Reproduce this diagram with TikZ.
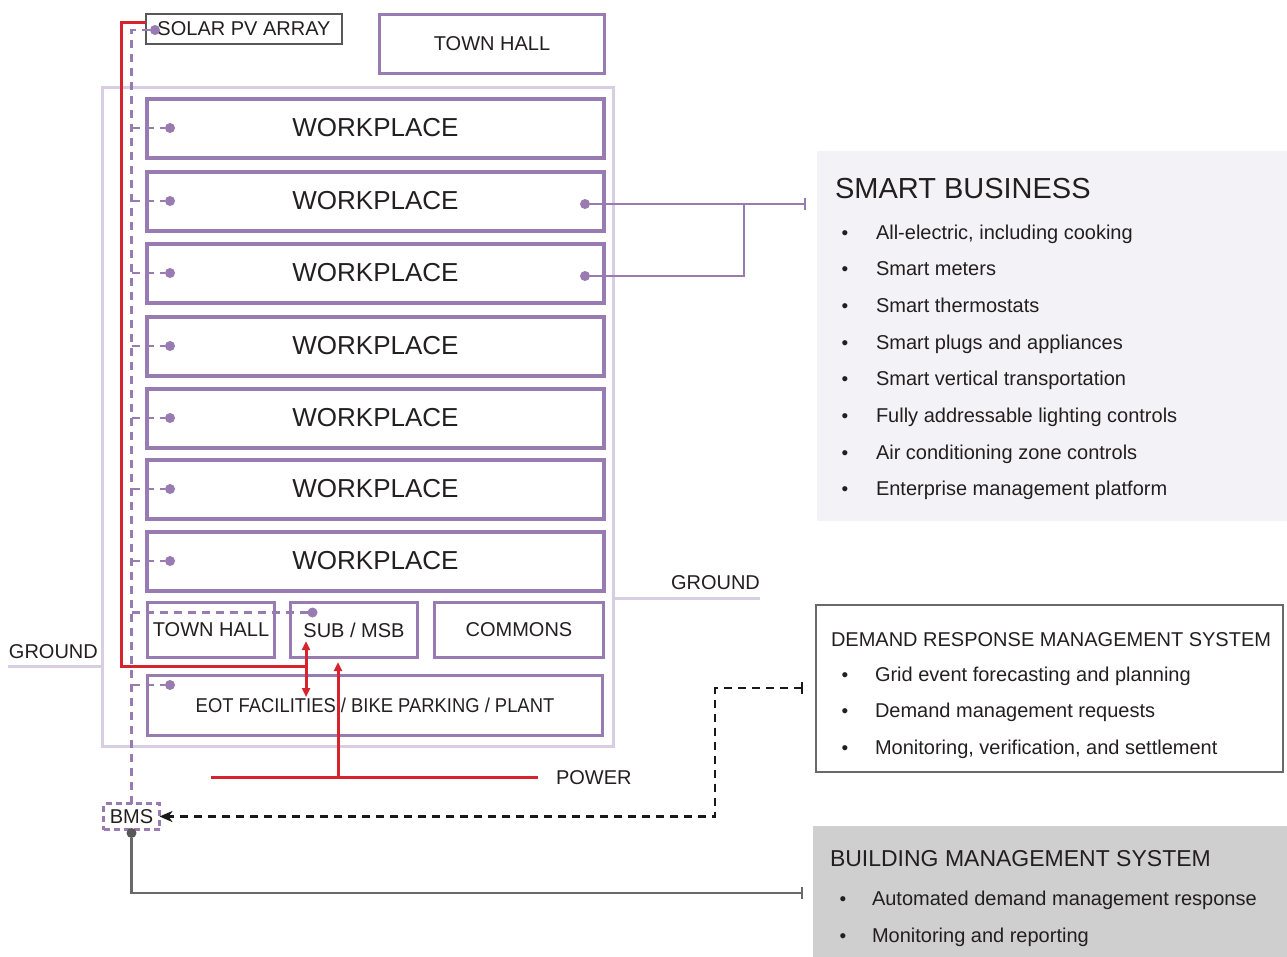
\documentclass[tikz,border=0pt]{standalone}
\usepackage{fontspec}
\setmainfont{Liberation Sans}
\usetikzlibrary{arrows.meta,calc}
\definecolor{purp}{RGB}{152,123,176}
\definecolor{lpurp}{RGB}{216,206,228}
\definecolor{pred}{RGB}{214,35,46}
\definecolor{txt}{RGB}{35,31,32}
\definecolor{sbbg}{RGB}{243,242,247}
\definecolor{bmsbg}{RGB}{206,207,206}
\definecolor{dgray}{RGB}{88,88,88}
\definecolor{mgray}{RGB}{105,105,105}
\begin{document}
\begin{tikzpicture}[x=1pt,y=-1pt,
  every node/.style={text=txt, inner sep=0pt, outer sep=0pt},
  f20/.style={font=\fontsize{20}{24}\selectfont},
  wp/.style={draw=purp, line width=4pt, minimum width=457pt, minimum height=59pt, font=\fontsize{26}{30}\selectfont},
  gbox/.style={draw=purp, line width=3pt, minimum height=55pt, f20},
  pdot/.style={circle, fill=purp, minimum size=10pt},
  spine/.style={purp, line width=2.5pt, dash pattern=on 8pt off 6pt},
  redl/.style={pred, line width=3pt},
  redtip/.style={-{Triangle[length=9pt,width=8pt]}},
  plink/.style={purp, line width=2.5pt},
  txtl/.style={f20, anchor=base west},
  bul/.style={font=\fontsize{19}{22}\selectfont, anchor=base},
]
\useasboundingbox (0,0) rectangle (1287,956);

% outer building frame
\node[draw=lpurp, line width=3pt, minimum width=511pt, minimum height=659pt, anchor=north west] (frame) at (102.5,87.5) {};

% ground lines and labels
\coordinate (gl1) at (8,666);
\coordinate (gl2) at (101,666);
\draw[lpurp, line width=3pt] (gl1) -- (gl2);
\node[txtl] (groundL) at (9,658) {GROUND};
\coordinate (gr1) at (615,598);
\coordinate (gr2) at (760,598);
\draw[lpurp, line width=3pt] (gr1) -- (gr2);
\node[txtl] (groundR) at (671,589) {GROUND};

% top boxes
\node[draw=dgray, line width=2.5pt, minimum width=196pt, minimum height=30pt, f20] (solar) at (244,29) {SOLAR PV ARRAY};
\node[draw=purp, line width=3pt, minimum width=225pt, minimum height=59pt, f20] (townhallT) at (492,44) {TOWN HALL};

% workplaces
\foreach \i/\cy in {1/128,2/201,3/273,4/346,5/418,6/489,7/561} {
  \node[wp] (wp\i) at (375.5,\cy) {WORKPLACE};
}

% ground floor
\node[gbox, minimum width=127pt] (townhallG) at (211,630) {TOWN HALL};
\node[gbox, minimum width=127pt] (sub) at (354,630) {SUB / MSB};
\node[gbox, minimum width=169pt] (commons) at (519,630) {COMMONS};
\node[draw=purp, line width=3pt, minimum width=455pt, minimum height=60pt, f20] (eot) at (375,705.5) {\scalebox{0.92}[1]{EOT FACILITIES / BIKE PARKING / PLANT}};

% BMS node
\node[draw=purp, line width=2.5pt, dash pattern=on 6pt off 4pt, minimum width=56pt, minimum height=26pt, f20] (bms) at (131.5,816.5) {BMS};

% dashed control spine
\coordinate (sp0) at (131.5,30);
\node[pdot] (soldot) at (155,30) {};
\draw[spine] (soldot) -- (sp0) -- (bms.north);
\foreach \i/\cy in {1/128,2/201,3/273,4/346,5/418,6/489,7/561} {
  \coordinate (sp\i) at (131.5,\cy);
  \node[pdot] (wd\i) at (170,\cy) {};
  \draw[spine] (sp\i) -- (wd\i);
}
\coordinate (spS) at (131.5,612.5);
\node[pdot] (subdot) at (312.5,612.5) {};
\draw[spine] (spS) -- (subdot);
\coordinate (spE) at (131.5,685);
\node[pdot] (eotdot) at (170,685) {};
\draw[spine] (spE) -- (eotdot);

% smart business links
\node[pdot] (sd2) at (585,204) {};
\node[pdot] (sd3) at (585,276) {};
\coordinate (sbend) at (806,204);
\coordinate (sbj) at (744,204);
\draw[plink, -{Bar[width=12pt,line width=2pt]}] (sd2) -- (sbend);
\draw[plink] (sd3) -- (744,276) -- (sbj);

% red power lines
\coordinate (solin) at (146,22);
\coordinate (rcorner) at (306,666);
\draw[redl] (solin) -- (121,22) -- (121,666) -- (rcorner);
\coordinate (subtip) at (306,641);
\coordinate (eottip) at (306,697);
\draw[redl, {Triangle[length=9pt,width=8pt]}-{Triangle[length=9pt,width=8pt]}] (subtip) -- (eottip);
\coordinate (pwL) at (211,777);
\coordinate (pwR) at (538,777);
\coordinate (pwJ) at (338,777);
\coordinate (pwtip) at (338,662);
\draw[redl] (pwL) -- (pwR);
\draw[redl, redtip] (pwJ) -- (pwtip);
\node[txtl] (power) at (556,784) {POWER};

% BMS connectors
\node[circle, fill=dgray, minimum size=10pt] (bmsdot) at (131.5,833) {};
\coordinate (bmsend) at (803,893);
\draw[mgray, line width=2.5pt, -{Bar[width=12pt,line width=2pt]}] (bmsdot) -- (131.5,893) -- (bmsend);
\coordinate (drstart) at (803,688);
\draw[black!90, line width=2.5pt, dash pattern=on 8pt off 6pt, {Bar[width=12pt,line width=2pt]}-{Stealth[length=13pt,width=11pt,inset=4pt]}] (drstart) -- (715,688) |- (bms.east);

% SMART BUSINESS panel
\node[fill=sbbg, minimum width=470pt, minimum height=370pt, anchor=north west] (sbpanel) at (817,151) {};
\node[font=\fontsize{29}{34}\selectfont, anchor=base west] (sbtitle) at (835,198) {SMART BUSINESS};
\foreach \k/\t in {0/{All-electric, including cooking},1/{Smart meters},2/{Smart thermostats},3/{Smart plugs and appliances},4/{Smart vertical transportation},5/{Fully addressable lighting controls},6/{Air conditioning zone controls},7/{Enterprise management platform}} {
  \pgfmathsetmacro\by{239+36.7*\k}
  \node[bul] (sbb\k) at (845,\by) {•};
  \node[txtl] (sbt\k) at (876,\by) {\t};
}

% DEMAND RESPONSE panel
\node[draw=mgray, line width=2pt, minimum width=467pt, minimum height=167pt, anchor=north west] (drpanel) at (816,605) {};
\node[txtl] (drtitle) at (831,646) {DEMAND RESPONSE MANAGEMENT SYSTEM};
\foreach \k/\t in {0/{Grid event forecasting and planning},1/{Demand management requests},2/{Monitoring, verification, and settlement}} {
  \pgfmathsetmacro\by{681+36.5*\k}
  \node[bul] (drb\k) at (845,\by) {•};
  \node[txtl] (drt\k) at (875,\by) {\t};
}

% BUILDING MANAGEMENT panel
\node[fill=bmsbg, minimum width=474pt, minimum height=131pt, anchor=north west] (bmpanel) at (813,826) {};
\node[font=\fontsize{23}{28}\selectfont, anchor=base west] (bmtitle) at (830,866) {BUILDING MANAGEMENT SYSTEM};
\foreach \k/\t in {0/{Automated demand management response},1/{Monitoring and reporting}} {
  \pgfmathsetmacro\by{905+37*\k}
  \node[bul] (bmb\k) at (843,\by) {•};
  \node[txtl] (bmt\k) at (872,\by) {\t};
}
\end{tikzpicture}
\end{document}
